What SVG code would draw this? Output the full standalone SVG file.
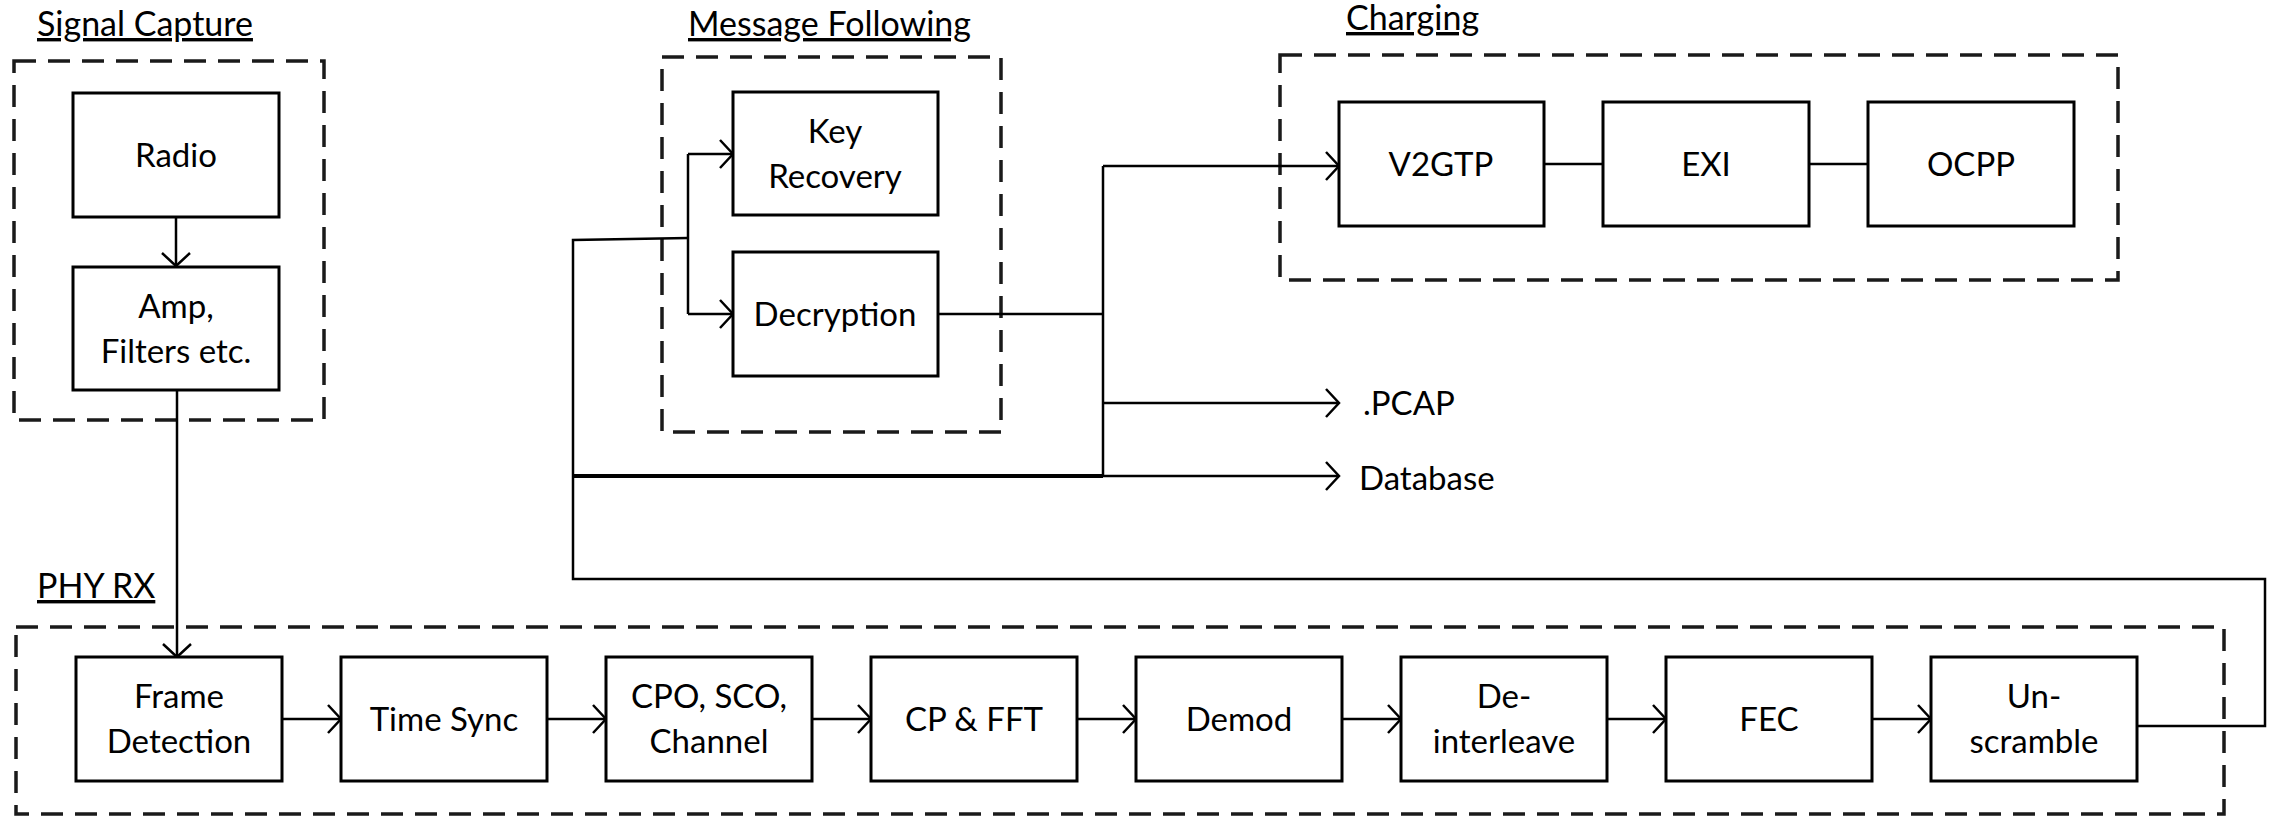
<svg xmlns="http://www.w3.org/2000/svg" width="2270" height="816" viewBox="0 0 2270 816">
<style>
  .bg { fill: #ffffff; }
  .box { fill: #ffffff; stroke: #000000; stroke-width: 3; }
  .grp { fill: none; stroke: #1a1a1a; stroke-width: 3.5; stroke-dasharray: 22 12; }
  .lbl { font-family: Lato, "Noto Sans", sans-serif; font-size: 33px; fill: #000000; text-anchor: middle; }
  .ttl { font-family: Lato, "Noto Sans", sans-serif; font-size: 34px; fill: #000000; text-decoration: underline; }
  .out { font-family: Lato, "Noto Sans", sans-serif; font-size: 33px; fill: #000000; }
  .wire { fill: none; stroke: #000000; stroke-width: 2.5; }
  .arrow { fill: none; stroke: #000000; stroke-width: 2.5; marker-end: url(#arr); }
  .thick { stroke-width: 4; }
</style>
<defs>
  <marker id="arr" markerUnits="userSpaceOnUse" viewBox="0 0 16 30" refX="14" refY="15" markerWidth="16" markerHeight="30" orient="auto">
    <path d="M1,1 L14,15 L1,29" fill="none" stroke="#000000" stroke-width="2.5"/>
  </marker>
</defs>
<rect class="bg" x="0" y="0" width="2270" height="816"/>

<!-- group frames and titles -->
<g id="signal-capture">
  <rect class="grp" x="14" y="61" width="310" height="359"/>
  <text class="ttl" x="37" y="36">Signal Capture</text>
</g>
<g id="message-following">
  <rect class="grp" x="662" y="57" width="339" height="375"/>
  <text class="ttl" x="688" y="36">Message Following</text>
</g>
<g id="charging">
  <rect class="grp" x="1280" y="55" width="838" height="225"/>
  <text class="ttl" x="1346" y="30">Charging</text>
</g>
<g id="phy-rx">
  <rect class="grp" x="16" y="627" width="2208" height="187"/>
  <text class="ttl" x="37" y="598">PHY RX</text>
</g>

<!-- connectors -->
<g id="connectors">
  <path class="arrow" d="M176,217 V266"/>
  <path class="arrow" d="M177,390 V657"/>
  <path class="arrow" d="M282,719 H341"/>
  <path class="arrow" d="M547,719 H606"/>
  <path class="arrow" d="M812,719 H871"/>
  <path class="arrow" d="M1077,719 H1136"/>
  <path class="arrow" d="M1342,719 H1401"/>
  <path class="arrow" d="M1607,719 H1666"/>
  <path class="arrow" d="M1872,719 H1931"/>
  <path class="wire" d="M2137,726 H2265 V579 H573 V240 L688,238"/>
  <path class="wire" d="M688,154 V314"/>
  <path class="arrow" d="M688,154 H733"/>
  <path class="arrow" d="M688,314 H733"/>
  <path class="wire" d="M938,314 H1103"/>
  <path class="wire thick" d="M573,476 H1103"/>
  <path class="wire" d="M1103,166 V476"/>
  <path class="arrow" d="M1103,166 H1339"/>
  <path class="arrow" d="M1103,403 H1339"/>
  <path class="arrow" d="M1103,476 H1339"/>
  <path class="wire" d="M1544,164 H1603"/>
  <path class="wire" d="M1809,164 H1868"/>
</g>

<!-- nodes -->
<g id="radio">
  <rect class="box" x="73" y="93" width="206" height="124"/>
  <text class="lbl" x="176" y="167">Radio</text>
</g>
<g id="amp">
  <rect class="box" x="73" y="267" width="206" height="123"/>
  <text class="lbl" x="176" y="318">Amp,</text>
  <text class="lbl" x="176" y="363">Filters etc.</text>
</g>
<g id="key-recovery">
  <rect class="box" x="733" y="92" width="205" height="123"/>
  <text class="lbl" x="835" y="143">Key</text>
  <text class="lbl" x="835" y="188">Recovery</text>
</g>
<g id="decryption">
  <rect class="box" x="733" y="252" width="205" height="124"/>
  <text class="lbl" x="835" y="326">Decryption</text>
</g>
<g id="v2gtp">
  <rect class="box" x="1339" y="102" width="205" height="124"/>
  <text class="lbl" x="1441" y="176">V2GTP</text>
</g>
<g id="exi">
  <rect class="box" x="1603" y="102" width="206" height="124"/>
  <text class="lbl" x="1706" y="176">EXI</text>
</g>
<g id="ocpp">
  <rect class="box" x="1868" y="102" width="206" height="124"/>
  <text class="lbl" x="1971" y="176">OCPP</text>
</g>
<g id="pcap">
  <text class="out" x="1363" y="415">.PCAP</text>
</g>
<g id="database">
  <text class="out" x="1359" y="490">Database</text>
</g>
<g id="frame-detection">
  <rect class="box" x="76" y="657" width="206" height="124"/>
  <text class="lbl" x="179" y="708">Frame</text>
  <text class="lbl" x="179" y="753">Detection</text>
</g>
<g id="time-sync">
  <rect class="box" x="341" y="657" width="206" height="124"/>
  <text class="lbl" x="444" y="731">Time Sync</text>
</g>
<g id="cpo-sco-channel">
  <rect class="box" x="606" y="657" width="206" height="124"/>
  <text class="lbl" x="709" y="708">CPO, SCO,</text>
  <text class="lbl" x="709" y="753">Channel</text>
</g>
<g id="cp-fft">
  <rect class="box" x="871" y="657" width="206" height="124"/>
  <text class="lbl" x="974" y="731">CP &amp; FFT</text>
</g>
<g id="demod">
  <rect class="box" x="1136" y="657" width="206" height="124"/>
  <text class="lbl" x="1239" y="731">Demod</text>
</g>
<g id="deinterleave">
  <rect class="box" x="1401" y="657" width="206" height="124"/>
  <text class="lbl" x="1504" y="708">De-</text>
  <text class="lbl" x="1504" y="753">interleave</text>
</g>
<g id="fec">
  <rect class="box" x="1666" y="657" width="206" height="124"/>
  <text class="lbl" x="1769" y="731">FEC</text>
</g>
<g id="unscramble">
  <rect class="box" x="1931" y="657" width="206" height="124"/>
  <text class="lbl" x="2034" y="708">Un-</text>
  <text class="lbl" x="2034" y="753">scramble</text>
</g>
</svg>
